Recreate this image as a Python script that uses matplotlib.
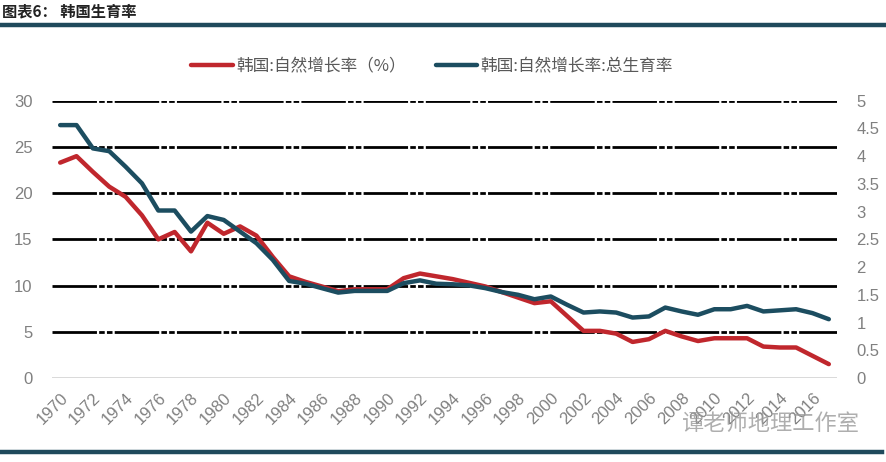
import matplotlib
matplotlib.use('Agg')
from matplotlib import pyplot as plt
import numpy as np

plt.rcParams['font.family'] = ['Liberation Sans', 'Noto Sans CJK SC', 'DejaVu Sans']

# data
years = list(range(1970, 2018))
natural_increase = [23.3, 24.0, 22.3, 20.7, 19.6, 17.6, 15.0, 15.8, 13.7, 16.8,
                    15.6, 16.4, 15.4, 13.1, 11.0, 10.4, 9.9, 9.4, 9.6, 9.6,
                    9.6, 10.8, 11.3, 11.0, 10.7, 10.3, 9.9, 9.3, 8.7, 8.1,
                    8.3, 6.7, 5.1, 5.1, 4.8, 3.9, 4.2, 5.1, 4.5, 4.0,
                    4.3, 4.3, 4.3, 3.4, 3.3, 3.3, 2.4, 1.5]
fertility = [4.56, 4.56, 4.14, 4.09, 3.81, 3.51, 3.02, 3.02, 2.64, 2.92,
             2.85, 2.64, 2.43, 2.13, 1.75, 1.70, 1.62, 1.54, 1.57, 1.57,
             1.57, 1.71, 1.76, 1.70, 1.69, 1.67, 1.62, 1.55, 1.50, 1.42,
             1.47, 1.32, 1.18, 1.20, 1.18, 1.09, 1.11, 1.27, 1.20, 1.14,
             1.24, 1.24, 1.30, 1.20, 1.22, 1.24, 1.17, 1.06]
year_labels = [str(y) for y in range(1970, 2017, 2)]

red = '#C0272D'
blue = '#1C4D60'
grey_txt = '#808080'

fig = plt.figure(figsize=(8.87, 4.62), dpi=100)
ax1 = fig.add_axes([52 / 887, 1 - 378 / 462, 785 / 887, 277.3 / 462])
ax2 = ax1.twinx()

# gridlines (left axis every 5)
for v in [5, 10, 15, 20, 25, 30]:
    ax1.axhline(v, color='black', lw=2, linestyle=(0, (16, 0.8, 2, 0.8, 2, 0.8)), zorder=1)
ax1.axhline(0, color='#D6D6D6', lw=2, zorder=1)

ax1.plot(years, natural_increase, color=red, lw=3.2, solid_capstyle='round',
         solid_joinstyle='round', zorder=3, label='韩国:自然增长率（%）')
ax2.plot(years, fertility, color=blue, lw=3.2, solid_capstyle='round',
         solid_joinstyle='round', zorder=3, label='韩国:自然增长率:总生育率')

ax1.set_xlim(1969.5, 2017.5)
ax1.set_ylim(0, 30)
ax2.set_ylim(0, 5)
ax1.set_yticks(range(0, 31, 5))
ax2.set_yticks(np.arange(0, 5.01, 0.5))
ax2.set_yticklabels(['0', '0.5', '1', '1.5', '2', '2.5', '3', '3.5', '4', '4.5', '5'])
ax1.set_xticks(range(1970, 2017, 2))
ax1.set_xticklabels(year_labels, rotation=45, ha='right', rotation_mode='anchor')

for ax in (ax1, ax2):
    for s in ax.spines.values():
        s.set_visible(False)
    ax.tick_params(length=0, colors=grey_txt, labelsize=12)
ax1.tick_params(axis='y', pad=14)
ax2.tick_params(axis='y', pad=14)
ax1.tick_params(axis='x', labelsize=12, pad=9)

# legend
handles = ax1.get_lines()[-1:] + ax2.get_lines()[-1:]
leg = fig.legend(handles, [h.get_label() for h in handles], loc='center',
                 bbox_to_anchor=(432 / 887, 1 - 66 / 462), ncol=2, frameon=False,
                 handlelength=2.5, handletextpad=0.2, columnspacing=1.8,
                 prop={'family': ['Noto Sans CJK SC'], 'size': 12})
for t in leg.get_texts():
    t.set_color('#595959')

# header and footer
fig.text(2 / 887, 1 - 11 / 462, '图表6： 韩国生育率', fontsize=11, fontweight='bold',
         family=['Noto Sans CJK SC'], va='center', ha='left', color='#222222')
fig.add_artist(plt.Line2D([0, 1], [1 - 25 / 462] * 2, color='#1F4A5C', lw=3.2,
                          transform=fig.transFigure))
fig.add_artist(plt.Line2D([2 / 887, 882 / 887], [1 - 452 / 462] * 2, color='#1F4A5C', lw=3.2,
                          transform=fig.transFigure))

# watermark
fig.text(771 / 887, 1 - 423 / 462, '谭老师地理工作室', fontsize=16,
         family=['Noto Sans CJK SC'], va='center', ha='center', color='#9a9a9a', alpha=0.8)

fig.savefig('out.png', dpi=100, facecolor='white')
